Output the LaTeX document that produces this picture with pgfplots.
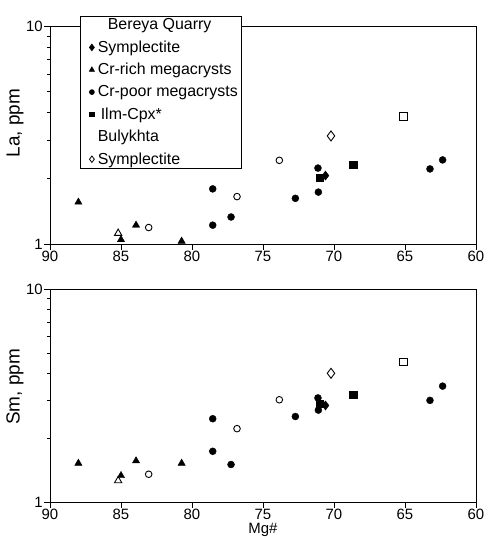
\documentclass[border=0pt]{standalone}
\usepackage{pgfplots}
\pgfplotsset{compat=1.18}
\usepackage{fontspec}
\setmainfont{Liberation Sans}
\pgfplotsset{
  myaxis/.style={
    scale only axis, width=426bp,
    xmin=60, xmax=90, x dir=reverse,
    ymin=1, ymax=10,
    xtick={60,65,...,90},
    ytick={1,10}, yticklabels={1,10},
    minor ytick={2,3,4,5,6,7,8,9},
    tick align=outside,
    xtick pos=left, ytick pos=left,
    major tick length=6bp, minor tick length=3bp,
    axis line style={line width=0.9pt},
    every tick/.style={black, line width=0.7pt},
    tick label style={font=\fontsize{15}{17}\selectfont},
    xticklabel style={inner sep=1bp},
    yticklabel style={inner sep=1bp},
    /pgf/number format/assume math mode=true,
    label style={font=\fontsize{19}{22}\selectfont},
    clip=false,
  },
  fc/.style={only marks, mark=*, mark size=3.5bp, black},
  ft/.style={only marks, mark=triangle*, mark size=4.2bp, black},
  fs/.style={only marks, mark=square*, mark size=3.6bp, black},
  fd/.style={only marks, mark=diamond*, mark size=4.6bp, black},
  oc/.style={only marks, mark=o, mark size=3.3bp, black, mark options={line width=0.9pt}},
  ot/.style={only marks, mark=triangle, mark size=4.2bp, black, mark options={line width=0.9pt}},
  os/.style={only marks, mark=square, mark size=3.7bp, black, mark options={line width=0.9pt}},
  od/.style={only marks, mark=diamond, mark size=5bp, black, mark options={line width=0.9pt}},
}
\begin{document}
\begin{tikzpicture}
% ---------- top: La ----------
\begin{axis}[ymode=log, myaxis, height=218bp, at={(0bp,258bp)}, anchor=south west,
  ylabel={La, ppm},
  ylabel style={at={(axis description cs:-0.082,0.555)}, anchor=center},
  legend style={at={(axis description cs:0.0704,1.046)}, anchor=north west,
    font=\fontsize{16}{19}\selectfont, draw=black, line width=0.8pt,
    row sep=7.4bp, column sep=2.5bp, inner xsep=3bp, inner ysep=1.5bp, fill=white,
    nodes={inner sep=1bp}},
  legend cell align=left,
]
\addlegendimage{empty legend}\addlegendentry{\hspace*{10bp}Bereya Quarry}
\addlegendimage{only marks, mark=diamond*, mark size=3.2bp, black}\addlegendentry{Symplectite}
\addlegendimage{only marks, mark=triangle*, mark size=2.8bp, black}\addlegendentry{Cr-rich megacrysts}
\addlegendimage{only marks, mark=*, mark size=2.4bp, black}\addlegendentry{Cr-poor megacrysts}
\addlegendimage{only marks, mark=square*, mark size=2.4bp, black}\addlegendentry{\hspace*{3bp}Ilm-Cpx*}
\addlegendimage{empty legend}\addlegendentry{Bulykhta}
\addlegendimage{only marks, mark=diamond, mark size=3.2bp, black}\addlegendentry{Symplectite}

\addplot[ft, forget plot] coordinates {(88,1.556) (85.0,1.047) (83.94,1.22) (80.73,1.03)};
\addplot[ot, forget plot] coordinates {(85.2,1.12)};
\addplot[oc, forget plot] coordinates {(83.05,1.19) (76.83,1.65) (73.85,2.42)};
\addplot[fc, forget plot] coordinates {(78.54,1.79) (78.54,1.22) (77.25,1.33) (72.72,1.62) (71.13,2.23) (71.1,1.73) (63.24,2.21) (62.35,2.43)};
\addplot[fs, forget plot] coordinates {(71.03,2.01) (68.65,2.31)};
\addplot[fd, forget plot] coordinates {(70.6,2.06)};
\addplot[os, forget plot] coordinates {(65.12,3.84)};
\addplot[od, forget plot] coordinates {(70.21,3.13)};
\end{axis}
% ---------- bottom: Sm ----------
\begin{axis}[ymode=log, myaxis, height=213bp, at={(0bp,0bp)}, anchor=south west,
  ylabel={Sm, ppm},
  ylabel style={at={(axis description cs:-0.082,0.54)}, anchor=center},
  xlabel={Mg\#},
  xlabel style={at={(axis description cs:0.5,-0.129)}, anchor=center, inner sep=0pt, font=\fontsize{15}{17}\selectfont},
]
\addplot[ft] coordinates {(88,1.52) (85.0,1.33) (83.94,1.56) (80.73,1.52)};
\addplot[ot] coordinates {(85.2,1.26)};
\addplot[oc] coordinates {(83.05,1.35) (76.83,2.21) (73.85,3.02)};
\addplot[fc] coordinates {(78.54,2.46) (78.54,1.73) (77.25,1.50) (72.72,2.52) (71.13,3.08) (71.1,2.70) (63.24,3.0) (62.35,3.5)};
\addplot[fs] coordinates {(71.03,2.9) (68.65,3.19)};
\addplot[fd] coordinates {(70.6,2.84)};
\addplot[os] coordinates {(65.12,4.54)};
\addplot[od] coordinates {(70.21,4.02)};
\end{axis}
\pgfresetboundingbox
\useasboundingbox (-50bp,-36bp) rectangle (438bp,502bp);
\end{tikzpicture}
\end{document}
